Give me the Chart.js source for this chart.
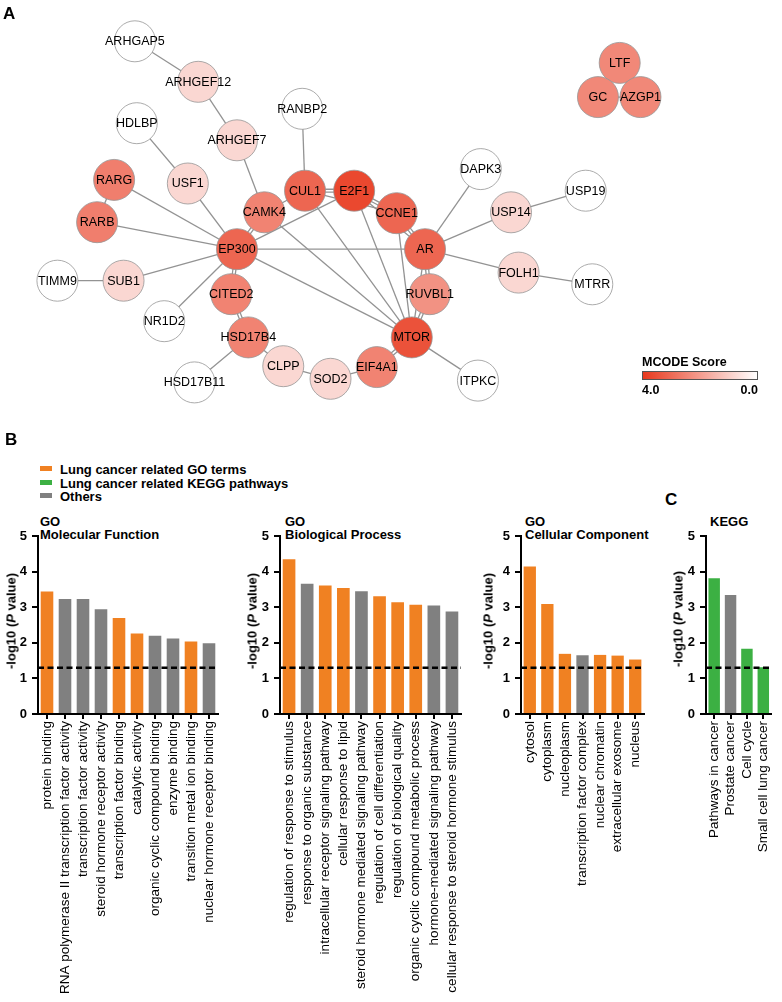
<!DOCTYPE html>
<html>
<head>
<meta charset="utf-8">
<script src="https://cdn.jsdelivr.net/npm/chart.js@4.4.1/dist/chart.umd.min.js"></script>
<style>
  body { margin: 0; background: #fff; }
  #page { position: relative; width: 782px; height: 1002px; overflow: hidden; font-family: 'Liberation Sans', Arial, sans-serif; color: #000; }
  canvas { position: absolute; }
  .txt { position: absolute; white-space: nowrap; font-weight: bold; }
  .letter { font-size: 17px; line-height: 17px; }
  .title { font-size: 13px; line-height: 13px; }
  .ytitle { position: absolute; white-space: nowrap; font-weight: bold; font-size: 13px; transform: translate(-50%, -50%) rotate(-90deg); }
  .legrow { position: absolute; left: 40px; font-size: 13px; line-height: 13px; font-weight: bold; white-space: nowrap; }
  .legrow span { display: inline-block; width: 12px; height: 5px; margin-right: 8px; vertical-align: 3px; }
</style>
</head>
<body>
<div id="page">
  <canvas id="network" width="782" height="430" style="left:0;top:0"></canvas>

  <div class="txt letter" style="left:3px;top:5px">A</div>
  <div class="txt letter" style="left:5px;top:431px">B</div>
  <div class="txt letter" style="left:665px;top:491px">C</div>

  <!-- leyenda MCODE -->
  <div class="txt" style="left:642px;top:356px;font-size:12.5px;line-height:13px">MCODE Score</div>
  <div style="position:absolute;left:642px;top:371px;width:114px;height:7px;border:1px solid #555;background:linear-gradient(to right, rgb(232,57,30), #fff)"></div>
  <div class="txt" style="left:642px;top:384px;font-size:12.5px;line-height:13px">4.0</div>
  <div class="txt" style="left:738px;top:384px;width:20px;text-align:right;font-size:12.5px;line-height:13px">0.0</div>

  <!-- leyenda panel B -->
  <div class="legrow" style="top:463px"><span style="background:#f08122"></span>Lung cancer related GO terms</div>
  <div class="legrow" style="top:476.5px"><span style="background:#3cb043"></span>Lung cancer related KEGG pathways</div>
  <div class="legrow" style="top:490px"><span style="background:#808080"></span>Others</div>

  <!-- títulos -->
  <div class="txt title" style="left:40px;top:515px">GO<br>Molecular Function</div>
  <div class="txt title" style="left:285px;top:515px">GO<br>Biological Process</div>
  <div class="txt title" style="left:525px;top:515px">GO<br>Cellular Component</div>
  <div class="txt title" style="left:710px;top:515px">KEGG</div>

  <canvas id="mfChart" width="230" height="502" style="left:0;top:500px"></canvas>
  <canvas id="bpChart" width="232" height="502" style="left:240px;top:500px"></canvas>
  <canvas id="ccChart" width="175" height="502" style="left:480px;top:500px"></canvas>
  <canvas id="keggChart" width="117" height="502" style="left:665px;top:500px"></canvas>

  <div class="ytitle" style="left:11px;top:621px">-log10 (<i>P</i> value)</div>
  <div class="ytitle" style="left:252px;top:621px">-log10 (<i>P</i> value)</div>
  <div class="ytitle" style="left:488px;top:621px">-log10 (<i>P</i> value)</div>
  <div class="ytitle" style="left:678px;top:619px">-log10 (<i>P</i> value)</div>
</div>

<script>
// Red de interacción (panel A)
const nodeNames = ['ARHGAP5','ARHGEF12','RANBP2','HDLBP','ARHGEF7','RARG','USF1','CUL1','E2F1','CAMK4','CCNE1','RARB','EP300','SUB1','TIMM9','CITED2','NR1D2','HSD17B4','CLPP','SOD2','HSD17B11','EIF4A1','MTOR','RUVBL1','AR','USP14','DAPK3','USP19','FOLH1','MTRR','ITPKC','LTF','GC','AZGP1'];
const nodeX = [120,187,297,122,228,98,176,300,352,257,397,80,228,108,38,222,151,240,277,327,183,376,413,432,427,518,486,597,526,604,483,633,610,655];
const nodeY = [22,67,97,113,132,176,180,188,188,212,213,223,253,288,288,303,333,351,383,397,401,384,351,303,253,212,164,188,279,292,399,46,84,84];
const nodeScores = [0,0.8,0,0,0.8,2.6,0.8,3.1,3.7,2.5,3.1,2.6,3.1,0.8,0,2.5,0,2.5,0.8,0.8,0,2.5,3.5,2.2,3.1,0.8,0,0,0.8,0,0,2.4,2.4,2.4];
const edges = [
  ['ARHGAP5','ARHGEF12'],['ARHGEF12','ARHGEF7'],['ARHGEF7','CAMK4'],['RANBP2','CUL1'],
  ['HDLBP','USF1'],['USF1','EP300'],['RARG','RARB'],['RARG','EP300'],['RARB','EP300'],
  ['CAMK4','EP300'],['CAMK4','CUL1'],['CAMK4','MTOR'],['CUL1','E2F1'],['CUL1','CCNE1'],
  ['CUL1','MTOR'],['E2F1','CCNE1'],['E2F1','MTOR'],['E2F1','AR'],['EP300','E2F1'],
  ['EP300','AR'],['EP300','MTOR'],['EP300','CITED2'],['EP300','SUB1'],['EP300','NR1D2'],
  ['SUB1','TIMM9'],['CITED2','HSD17B4'],['HSD17B4','CLPP'],['HSD17B4','HSD17B11'],
  ['CLPP','SOD2'],['SOD2','EIF4A1'],['EIF4A1','MTOR'],['MTOR','RUVBL1'],['MTOR','AR'],
  ['MTOR','ITPKC'],['CCNE1','MTOR'],['CCNE1','AR'],['RUVBL1','AR'],['AR','DAPK3'],
  ['AR','USP14'],['USP14','USP19'],['AR','FOLH1'],['FOLH1','MTRR'],
  ['LTF','GC'],['LTF','AZGP1'],['GC','AZGP1']
];
// aristas con doble línea (dos interacciones)
const doubleEdges = [
  ['CAMK4','EP300'],['EP300','CITED2'],['CITED2','HSD17B4'],['CUL1','E2F1'],['E2F1','CCNE1'],
  ['CCNE1','AR'],['RUVBL1','AR'],['MTOR','RUVBL1'],['EIF4A1','MTOR']
];
const maxScore = 4.0;

// GO función molecular
const mfTerms = ['protein binding','RNA polymerase II transcription factor activity','transcription factor activity','steroid hormone receptor activity','transcription factor binding','catalytic activity','organic cyclic compound binding','enzyme binding','transition metal ion binding','nuclear hormone receptor binding'];
const mfValues = [3.44, 3.23, 3.23, 2.94, 2.70, 2.26, 2.20, 2.12, 2.04, 1.99];
const mfGroups = ['go','other','other','other','go','go','other','other','go','other'];

// GO proceso biológico
const bpTerms = ['regulation of response to stimulus','response to organic substance','intracellular receptor signaling pathway','cellular response to lipid','steroid hormone mediated signaling pathway','regulation of cell differentiation','regulation of biological quality','organic cyclic compound metabolic process','hormone-mediated signaling pathway','cellular response to steroid hormone stimulus'];
const bpValues = [4.35, 3.66, 3.61, 3.54, 3.45, 3.31, 3.14, 3.07, 3.05, 2.88];
const bpGroups = ['go','other','go','go','other','go','go','go','other','other'];

// GO componente celular
const ccTerms = ['cytosol','cytoplasm','nucleoplasm','transcription factor complex','nuclear chromatin','extracellular exosome','nucleus'];
const ccValues = [4.14, 3.09, 1.69, 1.65, 1.66, 1.64, 1.53];
const ccGroups = ['go','go','go','other','go','go','go'];

// Rutas KEGG
const keggTerms = ['Pathways in cancer','Prostate cancer','Cell cycle','Small cell lung cancer'];
const keggValues = [3.81, 3.34, 1.83, 1.31];
const keggGroups = ['kegg','other','kegg','kegg'];

const threshold = 1.3; // -log10(0.05)
const yTicks = [0, 1, 2, 3, 4, 5];

const groupColors = { go: '#f08122', kegg: '#3cb043', other: '#808080' };
const fontFamily = "'Liberation Sans', Arial, sans-serif";

// Color del nodo según score MCODE (blanco -> rojo)
function scoreColor(s) {
    const t = s / maxScore;
    const r = Math.round(255 + t * (232 - 255));
    const g = Math.round(255 + t * (57 - 255));
    const b = Math.round(255 + t * (30 - 255));
    return `rgb(${r},${g},${b})`;
}

// Nombres dentro de los nodos
const nodeLabels = {
    id: 'nodeLabels',
    afterDatasetsDraw(chart) {
        const meta = chart.getDatasetMeta(0);
        const ctx = chart.ctx;
        ctx.save();
        ctx.font = `12.5px ${fontFamily}`;
        ctx.fillStyle = '#000';
        ctx.textAlign = 'center';
        ctx.textBaseline = 'middle';
        meta.data.forEach((pt, i) => {
            ctx.fillText(nodeNames[i], pt.x, pt.y + 0.5);
        });
        ctx.restore();
    }
};

function edgeDataset(p1, p2) {
    return {
        type: 'line',
        data: [p1, p2],
        borderColor: '#939393',
        borderWidth: 1.3,
        pointRadius: 0,
        showLine: true,
        clip: false,
        order: 2
    };
}

function initNetwork() {
    const nodePoints = nodeNames.map((n, i) => ({ x: nodeX[i], y: nodeY[i] }));
    const isDouble = (a, b) => doubleEdges.some(([c, d]) => (c === a && d === b) || (c === b && d === a));
    const edgeSets = [];
    edges.forEach(([a, b]) => {
        const pa = nodePoints[nodeNames.indexOf(a)];
        const pb = nodePoints[nodeNames.indexOf(b)];
        if (isDouble(a, b)) {
            // dos líneas paralelas separadas ~3px
            const dx = pb.x - pa.x, dy = pb.y - pa.y;
            const len = Math.hypot(dx, dy);
            const ox = -dy / len * 1.6, oy = dx / len * 1.6;
            edgeSets.push(edgeDataset({ x: pa.x + ox, y: pa.y + oy }, { x: pb.x + ox, y: pb.y + oy }));
            edgeSets.push(edgeDataset({ x: pa.x - ox, y: pa.y - oy }, { x: pb.x - ox, y: pb.y - oy }));
        } else {
            edgeSets.push(edgeDataset(pa, pb));
        }
    });

    new Chart(document.getElementById('network'), {
        type: 'scatter',
        data: {
            datasets: [{
                data: nodePoints,
                pointRadius: 20.5,
                pointBackgroundColor: nodeScores.map(scoreColor),
                pointBorderColor: 'rgba(150,150,150,0.8)',
                pointBorderWidth: 1,
                clip: false,
                order: 0
            }, ...edgeSets]
        },
        options: {
            responsive: false,
            animation: false,
            layout: { padding: 0 },
            plugins: { legend: { display: false }, tooltip: { enabled: false } },
            scales: {
                x: { type: 'linear', min: 0, max: 782, display: false },
                y: { type: 'linear', min: 0, max: 430, reverse: true, display: false }
            }
        },
        plugins: [nodeLabels]
    });
}

// Línea discontinua de significancia
const thresholdLine = {
    id: 'thresholdLine',
    afterDatasetsDraw(chart) {
        const { ctx, chartArea, scales } = chart;
        const py = scales.y.getPixelForValue(threshold);
        ctx.save();
        ctx.setLineDash([6, 3.5]);
        ctx.lineWidth = 2.4;
        ctx.strokeStyle = '#000';
        ctx.beginPath();
        ctx.moveTo(chartArea.left, py);
        ctx.lineTo(chartArea.right, py);
        ctx.stroke();
        ctx.restore();
    }
};

function initBarChart(id, terms, values, groups, yWidth, padRight) {
    new Chart(document.getElementById(id), {
        type: 'bar',
        data: {
            labels: terms,
            datasets: [{
                data: values,
                backgroundColor: groups.map(g => groupColors[g]),
                borderWidth: 0,
                barPercentage: 0.7,
                categoryPercentage: 1.0
            }]
        },
        options: {
            responsive: false,
            animation: false,
            layout: { padding: { top: 36, right: padRight, left: 0, bottom: 0 } },
            plugins: { legend: { display: false }, tooltip: { enabled: false } },
            scales: {
                x: {
                    grid: { drawOnChartArea: false, offset: false, tickLength: 5, color: '#000', lineWidth: 2 },
                    border: { color: '#000', width: 2 },
                    ticks: {
                        autoSkip: false,
                        minRotation: 90,
                        maxRotation: 90,
                        padding: 2,
                        color: '#000',
                        font: { family: fontFamily, size: 13.5 }
                    },
                    afterFit: s => { s.height = 288; }
                },
                y: {
                    min: yTicks[0],
                    max: yTicks[yTicks.length - 1],
                    grid: { drawOnChartArea: false, tickLength: 6, color: '#000', lineWidth: 2 },
                    border: { color: '#000', width: 2 },
                    ticks: {
                        stepSize: 1,
                        padding: 5,
                        color: '#000',
                        font: { family: fontFamily, size: 13, weight: 'bold' }
                    },
                    afterFit: s => { s.width = yWidth; }
                }
            }
        },
        plugins: [thresholdLine]
    });
}

// Inicialización
initNetwork();
initBarChart('mfChart', mfTerms, mfValues, mfGroups, 38, 12);
initBarChart('bpChart', bpTerms, bpValues, bpGroups, 40, 11);
initBarChart('ccChart', ccTerms, ccValues, ccGroups, 41, 11);
initBarChart('keggChart', keggTerms, keggValues, keggGroups, 41, 4);
</script>
</body>
</html>
